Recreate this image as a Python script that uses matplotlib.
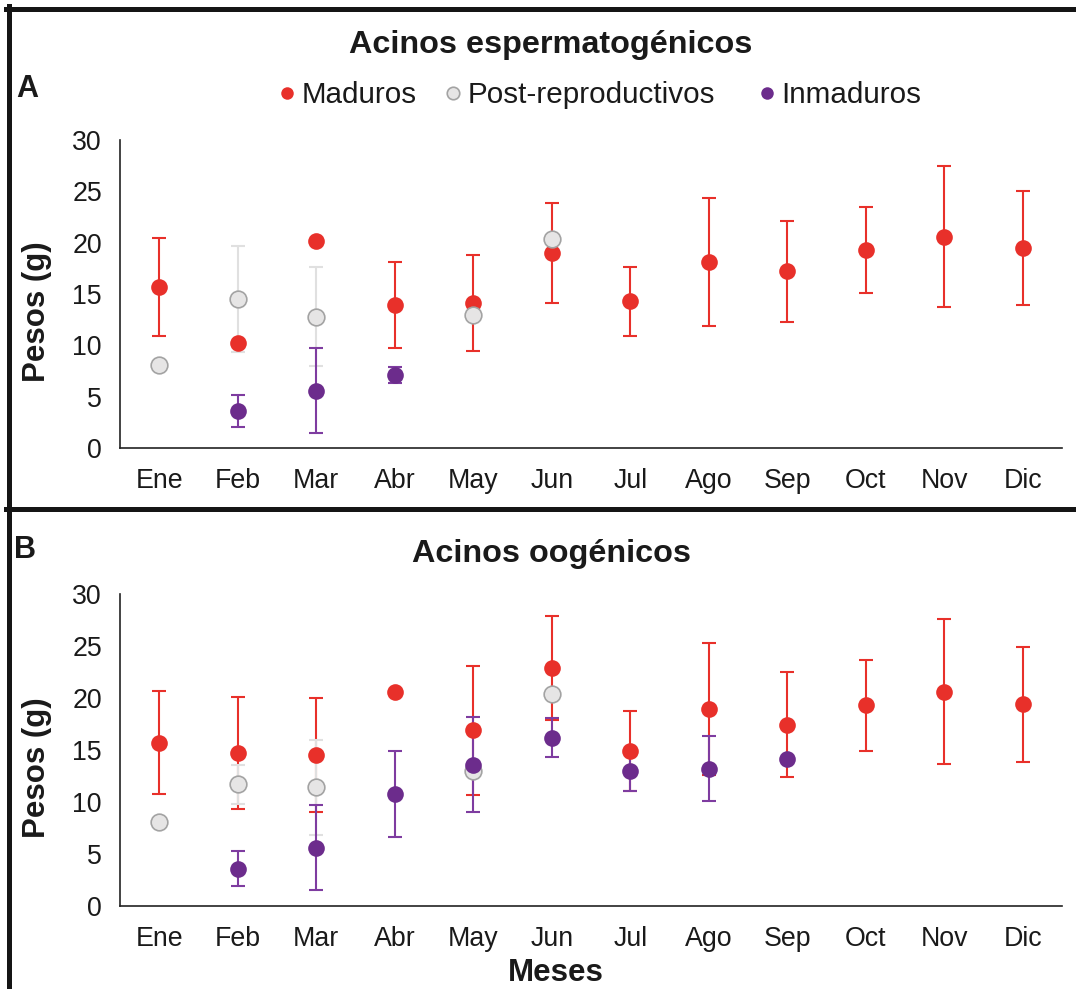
import numpy as np
import matplotlib
matplotlib.use("Agg")
import matplotlib.pyplot as plt
from matplotlib.lines import Line2D

plt.rcParams['font.family'] = ['Liberation Sans', 'DejaVu Sans']

nan = np.nan

# meses
meses = ['Ene', 'Feb', 'Mar', 'Abr', 'May', 'Jun', 'Jul', 'Ago', 'Sep', 'Oct', 'Nov', 'Dic']

# A - acinos espermatogenicos
mad_A = [15.7, 10.2, 20.2, 13.9, 14.1, 19.0, 14.3, 18.1, 17.2, 19.3, 20.6, 19.5]
mad_A_err = [4.75, nan, nan, 4.2, 4.65, 4.9, 3.35, 6.25, 4.95, 4.2, 6.9, 5.55]
post_A = [8.1, 14.5, 12.8, nan, 13.0, 20.4, nan, nan, nan, nan, nan, nan]
post_A_err = [nan, 5.15, 4.8, nan, nan, nan, nan, nan, nan, nan, nan, nan]
inm_A = [nan, 3.6, 5.6, 7.1, nan, nan, nan, nan, nan, nan, nan, nan]
inm_A_err = [nan, 1.6, 4.1, 0.8, nan, nan, nan, nan, nan, nan, nan, nan]

# B - acinos oogenicos
mad_B = [15.7, 14.7, 14.5, 20.6, 16.9, 22.9, 14.9, 18.9, 17.45, 19.3, 20.6, 19.4]
mad_B_err = [4.95, 5.35, 5.5, nan, 6.2, 5.0, 3.85, 6.35, 5.05, 4.4, 6.95, 5.55]
post_B = [8.1, 11.7, 11.4, nan, 13.0, 20.4, nan, nan, nan, nan, nan, nan]
post_B_err = [nan, 1.85, 4.6, nan, nan, nan, nan, nan, nan, nan, nan, nan]
inm_B = [nan, 3.6, 5.6, 10.8, 13.6, 16.2, 13.0, 13.2, 14.1, nan, nan, nan]
inm_B_err = [nan, 1.65, 4.1, 4.15, 4.55, 1.85, 1.95, 3.15, nan, nan, nan, nan]

rojo = '#E8302A'
gris_cara = '#E6E5E5'
gris_borde = '#A3A3A3'
gris_err = '#E0E0E0'
morado = '#6C2C8C'
morado_err = '#7E3CA0'
texto = '#1a1a1a'

W, H = 1076, 989
fig = plt.figure(figsize=(W / 100, H / 100), dpi=100)


def serie(ax, y, err, cara, borde, ecolor, z):
    x = np.arange(len(meses))
    y = np.array(y, dtype=float)
    err = np.array(err, dtype=float)
    ok = np.isfinite(err)
    ax.errorbar(x[ok], y[ok], yerr=err[ok], fmt='none', ecolor=ecolor,
                elinewidth=1.5, capsize=4.8, capthick=1.5, zorder=2)
    ax.plot(x, y, 'o', ls='none', ms=12, mfc=cara, mec=borde,
            mew=1.2 if borde != cara else 0, zorder=z)


def panel(bottom_px, top_px, datos):
    ax = fig.add_axes([120 / W, 1 - bottom_px / H, 942 / W, (bottom_px - top_px) / H])
    mad, mad_e, post, post_e, inm, inm_e = datos
    serie(ax, mad, mad_e, rojo, rojo, rojo, 3)
    serie(ax, post, post_e, gris_cara, gris_borde, gris_err, 4)
    serie(ax, inm, inm_e, morado, morado, morado_err, 5)
    ax.set_xlim(-0.5, 11.5)
    ax.set_ylim(0, 30)
    ax.set_yticks([0, 5, 10, 15, 20, 25, 30])
    ax.set_xticks(np.arange(len(meses)))
    ax.set_xticklabels(meses)
    for s in ['top', 'right']:
        ax.spines[s].set_visible(False)
    for s in ['left', 'bottom']:
        ax.spines[s].set_color('#222222')
        ax.spines[s].set_linewidth(1.2)
    ax.tick_params(axis='both', length=0, labelsize=19.3, colors=texto)
    ax.tick_params(axis='x', pad=14.5)
    ax.tick_params(axis='y', pad=13)
    return ax


axA = panel(448, 140, (mad_A, mad_A_err, post_A, post_A_err, inm_A, inm_A_err))
axB = panel(906, 594, (mad_B, mad_B_err, post_B, post_B_err, inm_B, inm_B_err))

# titulos y letras
fig.text(551 / W, 1 - 53 / H, 'Acinos espermatogénicos', ha='center', va='baseline',
         fontsize=23.3, fontweight='bold', color=texto)
fig.text(551 / W, 1 - 562 / H, 'Acinos oogénicos', ha='center', va='baseline',
         fontsize=23.3, fontweight='bold', color=texto)
fig.text(16 / W, 1 - 97 / H, 'A', ha='left', va='baseline', fontsize=22,
         fontweight='bold', color=texto)
fig.text(14 / W, 1 - 558 / H, 'B', ha='left', va='baseline', fontsize=22,
         fontweight='bold', color=texto)

fig.text(37 / W, 1 - 312 / H, 'Pesos (g)', rotation=90, ha='center', va='center',
         fontsize=22.5, fontweight='bold', color=texto)
fig.text(37 / W, 1 - 768 / H, 'Pesos (g)', rotation=90, ha='center', va='center',
         fontsize=22.5, fontweight='bold', color=texto)
fig.text(556 / W, 1 - 981 / H, 'Meses', ha='center', va='baseline',
         fontsize=22.5, fontweight='bold', color=texto)

# leyenda
entradas = [
    ('Maduros', rojo, rojo, 278),
    ('Post-reproductivos', gris_cara, gris_borde, 444),
    ('Inmaduros', morado, morado, 758),
]
for nombre, cara, borde, xpx in entradas:
    h = Line2D([], [], ls='none', marker='o', ms=9, mfc=cara, mec=borde,
               mew=1.2 if borde != cara else 0)
    fig.legend([h], [nombre], loc='center left', bbox_to_anchor=(xpx / W, 1 - 95 / H),
               frameon=False, fontsize=21.3, handlelength=0.6, handletextpad=0.2,
               borderpad=0, borderaxespad=0, labelcolor=texto)

# marcos negros
lw = 3.6
fig.add_artist(Line2D([6 / W, 1], [1 - 8.5 / H, 1 - 8.5 / H], color='#151515', lw=lw))
fig.add_artist(Line2D([6 / W, 1], [1 - 508.5 / H, 1 - 508.5 / H], color='#151515', lw=lw))
fig.add_artist(Line2D([8.5 / W, 8.5 / W], [0, 1 - 6 / H], color='#151515', lw=lw))

fig.savefig('out.png', dpi=100)
